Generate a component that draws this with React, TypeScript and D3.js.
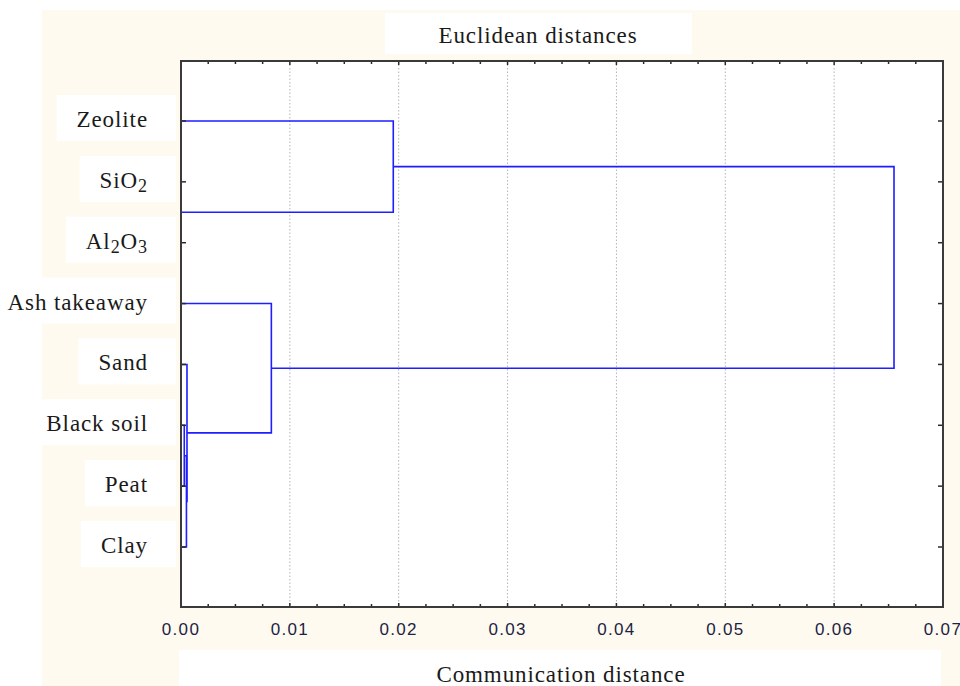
import React, { useEffect, useRef } from "react";
import * as d3 from "d3";

// leaf order, top to bottom
const leaves = ["Zeolite", "SiO2", "Al2O3", "Ash takeaway", "Sand", "Black soil", "Peat", "Clay"];

// [left child, right child, linkage distance]; merge i becomes node "n" + i
const merges: [string, string, number][] = [
  ["SiO2", "Al2O3", 0.0],
  ["Black soil", "Peat", 0.0003],
  ["n1", "Clay", 0.0005],
  ["Sand", "n2", 0.00055],
  ["Zeolite", "n0", 0.0195],
  ["Ash takeaway", "n3", 0.0083],
  ["n4", "n5", 0.0655],
];

const xTicks = [0, 0.01, 0.02, 0.03, 0.04, 0.05, 0.06, 0.07];
const xDomain = [0, 0.07];

const title = "Euclidean distances";
const xTitle = "Communication distance";

const serif = "'Liberation Serif', 'Times New Roman', serif";
const sans = "'Liberation Sans', Arial, sans-serif";

function App() {
  const ref = useRef<SVGSVGElement>(null);

  useEffect(() => {
    const svg = d3.select(ref.current);
    svg.selectAll("*").remove();

    const left = 181, right = 943, top = 61, bottom = 607;
    const x = d3.scaleLinear().domain(xDomain).range([left, right]);
    const y = d3.scalePoint<string>().domain(leaves).range([121, 547]);

    // backgrounds
    svg.append("rect").attr("width", 960).attr("height", 686).attr("fill", "#fff");
    svg.append("rect").attr("x", 42).attr("y", 10).attr("width", 918).attr("height", 676).attr("fill", "#fffaf0");
    svg.append("rect").attr("x", 385).attr("y", 13).attr("width", 307).attr("height", 41).attr("fill", "#fff");
    svg.append("rect").attr("x", 179).attr("y", 650).attr("width", 762).attr("height", 40).attr("fill", "#fff");
    svg.append("rect").attr("x", left).attr("y", top).attr("width", right - left).attr("height", bottom - top).attr("fill", "#fff");

    // leaf labels with white boxes
    const boxes = svg.append("g");
    const labels = svg.append("g");
    leaves.forEach(name => {
      const t = labels.append("text")
        .attr("x", 148)
        .attr("y", (y(name) as number) + 6)
        .attr("text-anchor", "end")
        .style("font-family", serif)
        .style("font-size", "23px")
        .style("letter-spacing", "0.9px")
        .attr("fill", "#1a1a1a");
      const parts = name.split(/(\d+)/).filter(p => p.length);
      let shifted = false;
      parts.forEach(p => {
        const isNum = /^\d+$/.test(p);
        const ts = t.append("tspan").text(p);
        if (isNum && !shifted) { ts.attr("dy", 4).style("font-size", "18px"); shifted = true; }
        else if (isNum) { ts.style("font-size", "18px"); }
        else if (shifted) { ts.attr("dy", -4); shifted = false; }
      });
      const bb = (t.node() as SVGTextElement).getBBox();
      let x0 = bb.x - 20;
      if (x0 < 40) x0 = 0;
      const yc = y(name) as number;
      boxes.append("rect")
        .attr("x", x0).attr("y", yc - 26)
        .attr("width", 176 - x0).attr("height", 46)
        .attr("fill", "#fff");
    });

    // grid
    svg.append("g").selectAll("line")
      .data(xTicks.slice(1, -1))
      .join("line")
      .attr("x1", d => x(d)).attr("x2", d => x(d))
      .attr("y1", top).attr("y2", bottom)
      .attr("stroke", "#b4b4b4")
      .attr("stroke-dasharray", "1.5,2");

    // dendrogram
    const pos = new Map<string, { x: number; y: number }>();
    leaves.forEach(l => pos.set(l, { x: 0, y: y(l) as number }));
    const links = svg.append("g")
      .attr("fill", "none")
      .attr("stroke", "#1e1eff")
      .attr("stroke-width", 1.6);
    merges.forEach(([a, b, h], i) => {
      const pa = pos.get(a)!, pb = pos.get(b)!;
      const path = d3.path();
      path.moveTo(x(pa.x), pa.y);
      path.lineTo(x(h), pa.y);
      path.lineTo(x(h), pb.y);
      path.lineTo(x(pb.x), pb.y);
      links.append("path").attr("d", path.toString());
      pos.set("n" + i, { x: h, y: (pa.y + pb.y) / 2 });
    });

    // ticks
    const minor = d3.range(0.0025, 0.07 - 1e-9, 0.0025);
    const tk = svg.append("g").attr("stroke", "#2a2a2a").attr("stroke-width", 1.5);
    minor.forEach(v => {
      const len = Math.abs(v * 100 - Math.round(v * 100)) < 1e-6 ? 4 : 3;
      tk.append("line").attr("x1", x(v)).attr("x2", x(v)).attr("y1", bottom).attr("y2", bottom - len);
      tk.append("line").attr("x1", x(v)).attr("x2", x(v)).attr("y1", top).attr("y2", top + len);
    });
    leaves.forEach(l => {
      const yy = y(l) as number;
      tk.append("line").attr("x1", left).attr("x2", left + 5).attr("y1", yy).attr("y2", yy);
      tk.append("line").attr("x1", right).attr("x2", right - 5).attr("y1", yy).attr("y2", yy);
    });

    // frame
    svg.append("rect")
      .attr("x", left).attr("y", top)
      .attr("width", right - left).attr("height", bottom - top)
      .attr("fill", "none")
      .attr("stroke", "#3a3a3a")
      .attr("stroke-width", 2);

    // tick labels
    svg.append("g").selectAll("text")
      .data(xTicks)
      .join("text")
      .attr("x", d => x(d))
      .attr("y", 635)
      .attr("text-anchor", "middle")
      .style("font-family", sans)
      .style("font-size", "17px")
      .style("letter-spacing", "1.3px")
      .attr("fill", "#1c2342")
      .text(d => d3.format(".2f")(d));

    // titles
    svg.append("text")
      .attr("x", 538).attr("y", 43)
      .attr("text-anchor", "middle")
      .style("font-family", serif)
      .style("font-size", "23px")
      .style("letter-spacing", "0.9px")
      .attr("fill", "#1a1a1a")
      .text(title);
    svg.append("text")
      .attr("x", 561).attr("y", 682)
      .attr("text-anchor", "middle")
      .style("font-family", serif)
      .style("font-size", "23px")
      .style("letter-spacing", "0.9px")
      .attr("fill", "#1a1a1a")
      .text(xTitle);
  }, []);

  return (
    <svg
      ref={ref}
      width={960}
      height={686}
      style={{ position: "absolute", left: 0, top: 0, display: "block" }}
    />
  );
}

export default App;
